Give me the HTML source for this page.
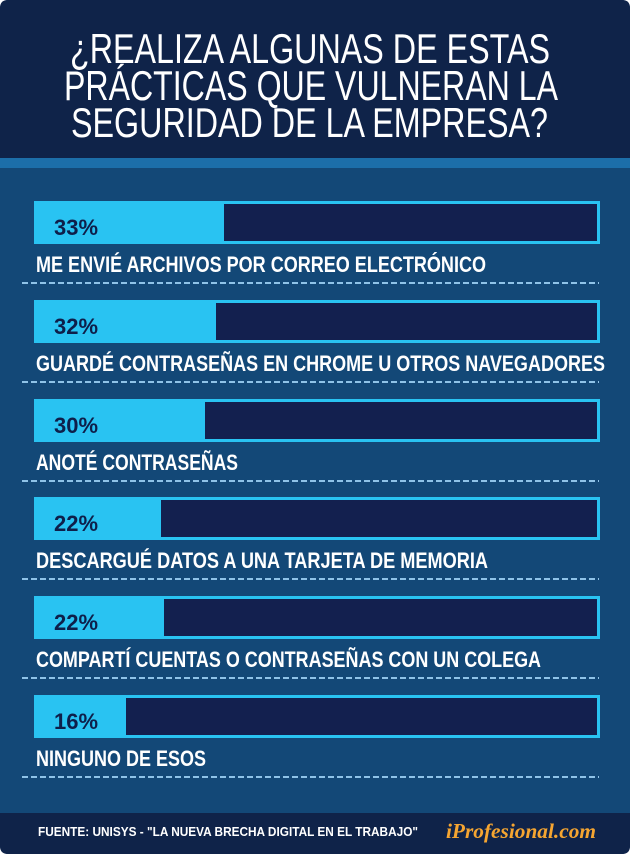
<!DOCTYPE html>
<html><head><meta charset="utf-8"><style>
html,body{margin:0;padding:0;background:#fff}
svg{display:block}
</style></head><body>
<svg width="630" height="854" viewBox="0 0 630 854" xmlns="http://www.w3.org/2000/svg" font-family="Liberation Sans, sans-serif">
<rect x="0" y="0" width="630" height="854" rx="8" fill="#134877"/>
<path d="M8 0H622Q630 0 630 8V158H0V8Q0 0 8 0Z" fill="#0f2349"/>
<rect x="0" y="158" width="630" height="10" fill="#1c6ea9"/>
<g fill="#fff" font-size="42">
<text x="70" y="63" textLength="480" lengthAdjust="spacingAndGlyphs">¿REALIZA ALGUNAS DE ESTAS</text>
<text x="64" y="100" textLength="494" lengthAdjust="spacingAndGlyphs">PRÁCTICAS QUE VULNERAN LA</text>
<text x="71" y="137" textLength="477" lengthAdjust="spacingAndGlyphs">SEGURIDAD DE LA EMPRESA?</text>
</g>
<g id="bars" font-weight="bold">
<!-- bar rows -->
<g transform="translate(0,0)">
<rect x="35.5" y="202.5" width="563" height="40" fill="#13204f" stroke="#29c3f2" stroke-width="3"/>
<rect x="34" y="201" width="190" height="43" fill="#29c3f2"/>
<text x="54" y="235" font-size="22" fill="#0e1f4a" textLength="44" lengthAdjust="spacingAndGlyphs">33%</text>
<text x="36" y="272" font-size="22" fill="#fff" textLength="450" lengthAdjust="spacingAndGlyphs">ME ENVIÉ ARCHIVOS POR CORREO ELECTRÓNICO</text>
<line x1="22" y1="283" x2="599" y2="283" stroke="#8fc3e8" stroke-width="2" stroke-dasharray="6,3"/>
</g>
<g transform="translate(0,99)">
<rect x="35.5" y="202.5" width="563" height="40" fill="#13204f" stroke="#29c3f2" stroke-width="3"/>
<rect x="34" y="201" width="182" height="43" fill="#29c3f2"/>
<text x="54" y="235" font-size="22" fill="#0e1f4a" textLength="44" lengthAdjust="spacingAndGlyphs">32%</text>
<text x="36" y="272" font-size="22" fill="#fff" textLength="569" lengthAdjust="spacingAndGlyphs">GUARDÉ CONTRASEÑAS EN CHROME U OTROS NAVEGADORES</text>
<line x1="22" y1="283" x2="599" y2="283" stroke="#8fc3e8" stroke-width="2" stroke-dasharray="6,3"/>
</g>
<g transform="translate(0,198)">
<rect x="35.5" y="202.5" width="563" height="40" fill="#13204f" stroke="#29c3f2" stroke-width="3"/>
<rect x="34" y="201" width="171" height="43" fill="#29c3f2"/>
<text x="54" y="235" font-size="22" fill="#0e1f4a" textLength="44" lengthAdjust="spacingAndGlyphs">30%</text>
<text x="36" y="272" font-size="22" fill="#fff" textLength="202" lengthAdjust="spacingAndGlyphs">ANOTÉ CONTRASEÑAS</text>
<line x1="22" y1="283" x2="599" y2="283" stroke="#8fc3e8" stroke-width="2" stroke-dasharray="6,3"/>
</g>
<g transform="translate(0,296)">
<rect x="35.5" y="202.5" width="563" height="40" fill="#13204f" stroke="#29c3f2" stroke-width="3"/>
<rect x="34" y="201" width="127" height="43" fill="#29c3f2"/>
<text x="54" y="235" font-size="22" fill="#0e1f4a" textLength="44" lengthAdjust="spacingAndGlyphs">22%</text>
<text x="36" y="272" font-size="22" fill="#fff" textLength="452" lengthAdjust="spacingAndGlyphs">DESCARGUÉ DATOS A UNA TARJETA DE MEMORIA</text>
<line x1="22" y1="283" x2="599" y2="283" stroke="#8fc3e8" stroke-width="2" stroke-dasharray="6,3"/>
</g>
<g transform="translate(0,395)">
<rect x="35.5" y="202.5" width="563" height="40" fill="#13204f" stroke="#29c3f2" stroke-width="3"/>
<rect x="34" y="201" width="130" height="43" fill="#29c3f2"/>
<text x="54" y="235" font-size="22" fill="#0e1f4a" textLength="44" lengthAdjust="spacingAndGlyphs">22%</text>
<text x="36" y="272" font-size="22" fill="#fff" textLength="505" lengthAdjust="spacingAndGlyphs">COMPARTÍ CUENTAS O CONTRASEÑAS CON UN COLEGA</text>
<line x1="22" y1="283" x2="599" y2="283" stroke="#8fc3e8" stroke-width="2" stroke-dasharray="6,3"/>
</g>
<g transform="translate(0,494)">
<rect x="35.5" y="202.5" width="563" height="40" fill="#13204f" stroke="#29c3f2" stroke-width="3"/>
<rect x="34" y="201" width="92" height="43" fill="#29c3f2"/>
<text x="54" y="235" font-size="22" fill="#0e1f4a" textLength="44" lengthAdjust="spacingAndGlyphs">16%</text>
<text x="36" y="272" font-size="22" fill="#fff" textLength="170" lengthAdjust="spacingAndGlyphs">NINGUNO DE ESOS</text>
<line x1="22" y1="283" x2="599" y2="283" stroke="#8fc3e8" stroke-width="2" stroke-dasharray="6,3"/>
</g>
</g>
<path d="M0 813H630V846Q630 854 622 854H8Q0 854 0 846Z" fill="#0f2349"/>
<text x="38" y="836" font-size="13" font-weight="bold" fill="#fff" textLength="380" lengthAdjust="spacingAndGlyphs">FUENTE: UNISYS - "LA NUEVA BRECHA DIGITAL EN EL TRABAJO"</text>
<text x="446" y="838" font-family="Liberation Serif, serif" font-size="21" font-weight="bold" font-style="italic" fill="#f5a531" textLength="150" lengthAdjust="spacingAndGlyphs">iProfesional.com</text>
</svg>
</body></html>
